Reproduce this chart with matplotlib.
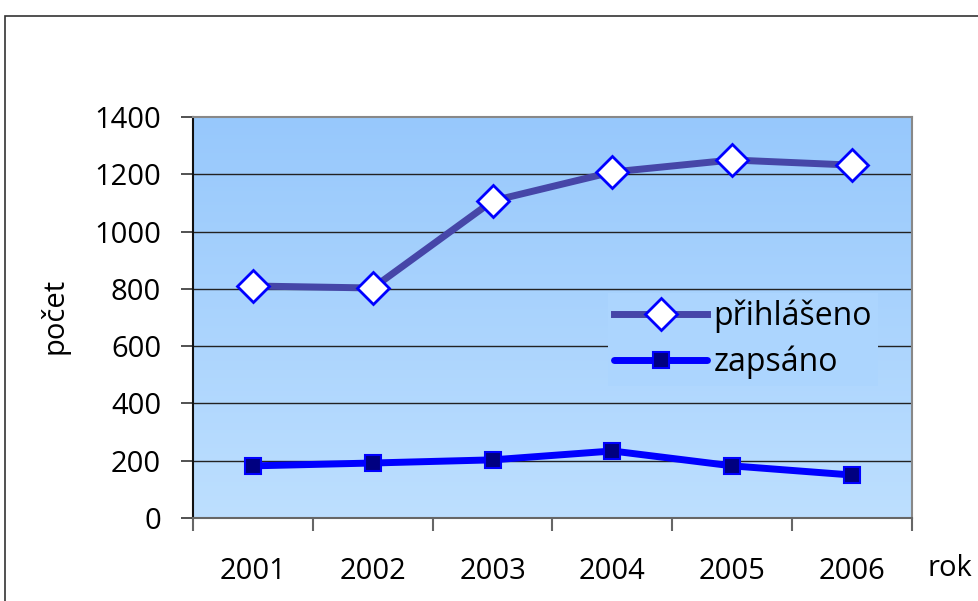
import matplotlib
matplotlib.use("Agg")
import matplotlib.pyplot as plt
import numpy as np
from matplotlib.patches import Rectangle
from matplotlib.colors import LinearSegmentedColormap

years = ["2001", "2002", "2003", "2004", "2005", "2006"]
prihlaseno = [810, 803, 1107, 1208, 1250, 1232]
zapsano = [182, 192, 203, 234, 182, 150]
yticks = [0, 200, 400, 600, 800, 1000, 1200, 1400]

plt.rcParams['font.family'] = ['Open Sans', 'DejaVu Sans']

fig = plt.figure(figsize=(9.79, 6.01), dpi=100)
ax = fig.add_axes([193/979, 1-518/601, (912-193)/979, (518-117)/601])

x = np.arange(len(years))
ax.set_xlim(-0.5, len(years)-0.5)
ax.set_ylim(0, 1400)

# gradient background
cmap = LinearSegmentedColormap.from_list("g", ["#bddfff", "#97c8fc"])
grad = np.linspace(0, 1, 256).reshape(-1, 1)
ax.imshow(grad, extent=[-0.5, len(years)-0.5, 0, 1400], origin="lower",
          aspect="auto", cmap=cmap, zorder=0)

for t in yticks[1:-1]:
    ax.axhline(t, color="#222222", lw=1.0, zorder=1)

ax.plot(x, prihlaseno, color="#4646a8", lw=5, marker="D", ms=16,
        mfc="white", mec="#0000ff", mew=2, label="přihlášeno", zorder=3)
ax.plot(x, zapsano, color="#0000ff", lw=5, marker="s", ms=12,
        mfc="#000080", mec="#0000ff", mew=1.5, label="zapsáno", zorder=3,
        solid_capstyle="round")

ax.set_yticks(yticks)
ax.set_yticklabels([str(v) for v in yticks], fontsize=21)
ax.set_xticks(x)
ax.set_xticklabels(years, fontsize=21)
ax.set_xticks(np.arange(-0.5, len(years)), minor=True)
ax.tick_params(axis="x", which="major", length=0, pad=28)
ax.tick_params(axis="x", which="minor", length=9, width=1.5, color="#666666")
ax.tick_params(axis="y", length=9, width=1.2, color="#333333", pad=14)

for s in ["top", "right"]:
    ax.spines[s].set_color("#888888")
    ax.spines[s].set_linewidth(1.5)
ax.spines["bottom"].set_color("#666666")
ax.spines["bottom"].set_linewidth(1.5)
ax.spines["left"].set_color("#111111")
ax.spines["left"].set_linewidth(1.5)

fig.text(55/979, 1-316/601, "počet", fontsize=21, rotation=90,
         ha="center", va="center")
fig.text(950/979, 1-568/601, "rok", fontsize=21, ha="center", va="center")

leg = ax.legend(loc="upper left", bbox_to_anchor=((608-193)/719, (518-293)/401),
                fontsize=23, frameon=True, facecolor="#acd5fe", edgecolor="none",
                framealpha=1, handlelength=2.9, borderpad=0.2, labelspacing=0.4,
                handletextpad=0.2, fancybox=False, borderaxespad=0)

fig.patches.append(Rectangle((5/979, -0.1), 1.2, 1.1 - 16/601,
                             transform=fig.transFigure, fill=False,
                             edgecolor="#333333", lw=1.2))

fig.savefig("out.png", dpi=100)
